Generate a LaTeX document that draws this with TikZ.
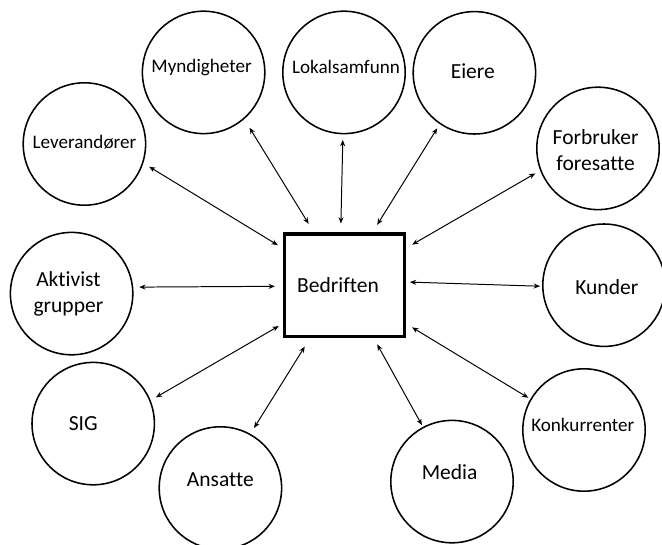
\documentclass[tikz,border=0pt]{standalone}
\usepackage{fontspec}
\setmainfont{Carlito}[Ligatures=NoCommon]
\usetikzlibrary{arrows.meta}
\begin{document}
\begin{tikzpicture}[>={Stealth[length=4.5pt,width=3.6pt]},
    party/.style={circle, draw, line width=1.1pt, minimum size=3.06cm, inner sep=0pt},
    firm/.style={rectangle, draw, line width=2.4pt, minimum width=2.99cm, minimum height=2.56cm, inner sep=0pt},
    link/.style={<->, line width=0.7pt},
    bigtext/.style={font=\fontsize{15.3}{18.5}\selectfont, align=center, inner sep=0pt},
    smalltext/.style={font=\fontsize{13.6}{16}\selectfont, align=center, inner sep=0pt}]
    \useasboundingbox (0,0) rectangle (16.55,-13.6);
    % the company in the middle
    \node[firm] (firma) at (8.61,-7.13) {};
    \node[bigtext] (firmat) at ([xshift=-.16cm]firma) {Bedriften};
    % stakeholders
    \node[party] (lev) at (2.11,-3.6) {};
    \node[party] (mynd) at (5.09,-1.81) {};
    \node[party] (lok) at (8.6,-1.81) {};
    \node[party] (eier) at (11.86,-1.82) {};
    \node[party] (forb) at (14.95,-3.71) {};
    \node[party] (kund) at (15.1,-7.13) {};
    \node[party] (akt) at (1.79,-7.34) {};
    \node[party] (sig) at (2.33,-10.59) {};
    \node[party] (ans) at (5.51,-12.2) {};
    \node[party] (media) at (11.3,-12.04) {};
    \node[party] (konk) at (14.6,-10.75) {};
    % labels
    \node[smalltext] (levt) at ([yshift=.05cm]lev) {Leverandører};
    \node[smalltext] (myndt) at ([xshift=-.05cm,yshift=.11cm]mynd) {Myndigheter};
    \node[smalltext] (lokt) at ([xshift=.05cm,yshift=.14cm]lok) {Lokalsamfunn};
    \node[bigtext] (eiert) at ([xshift=-.04cm,yshift=.05cm]eier) {Eiere};
    \node[bigtext] (forbt) at ([xshift=-.06cm,yshift=-.05cm]forb) {Forbruker\\foresatte};
    \node[bigtext] (kundt) at ([xshift=.07cm,yshift=-.05cm]kund) {Kunder};
    \node[bigtext] (aktt) at ([xshift=-.08cm]akt) {Aktivist\\grupper};
    \node[bigtext] (sigt) at ([xshift=-.25cm]sig) {SIG};
    \node[bigtext] (anst) at ([yshift=.22cm]ans) {Ansatte};
    \node[bigtext] (mediat) at ([xshift=-.06cm,yshift=.24cm]media) {Media};
    \node[smalltext] (konkt) at ([xshift=-.03cm,yshift=.12cm]konk) {Konkurrenter};
    % arrows
    \draw[link, shorten <=.15cm, shorten >=.17cm] (firma.149) -- (lev.-18);
    \draw[link, shorten <=.25cm, shorten >=.25cm] (firma.120) -- (mynd.-49);
    \draw[link, shorten <=.22cm, shorten >=.14cm] (firma.94) -- (lok.-91);
    \draw[link, shorten <=.22cm, shorten >=.12cm] (firma.62) -- (eier.-124);
    \draw[link, shorten <=.18cm, shorten >=.14cm] (firma.31) -- (forb.201);
    \draw[link, shorten <=.1cm, shorten >=.05cm] (firma.3) -- (kund.181);
    \draw[link, shorten <=.2cm, shorten >=.15cm] (firma.181) -- (akt.6);
    \draw[link, shorten <=.12cm, shorten >=.15cm] (firma.212) -- (sig.22);
    \draw[link, shorten <=.25cm, shorten >=.17cm] (firma.237) -- (ans.61);
    \draw[link, shorten <=.18cm, shorten >=.05cm] (firma.299) -- (media.118);
    \draw[link, shorten <=.18cm, shorten >=.06cm] (firma.328) -- (konk.150);
\end{tikzpicture}
\end{document}
